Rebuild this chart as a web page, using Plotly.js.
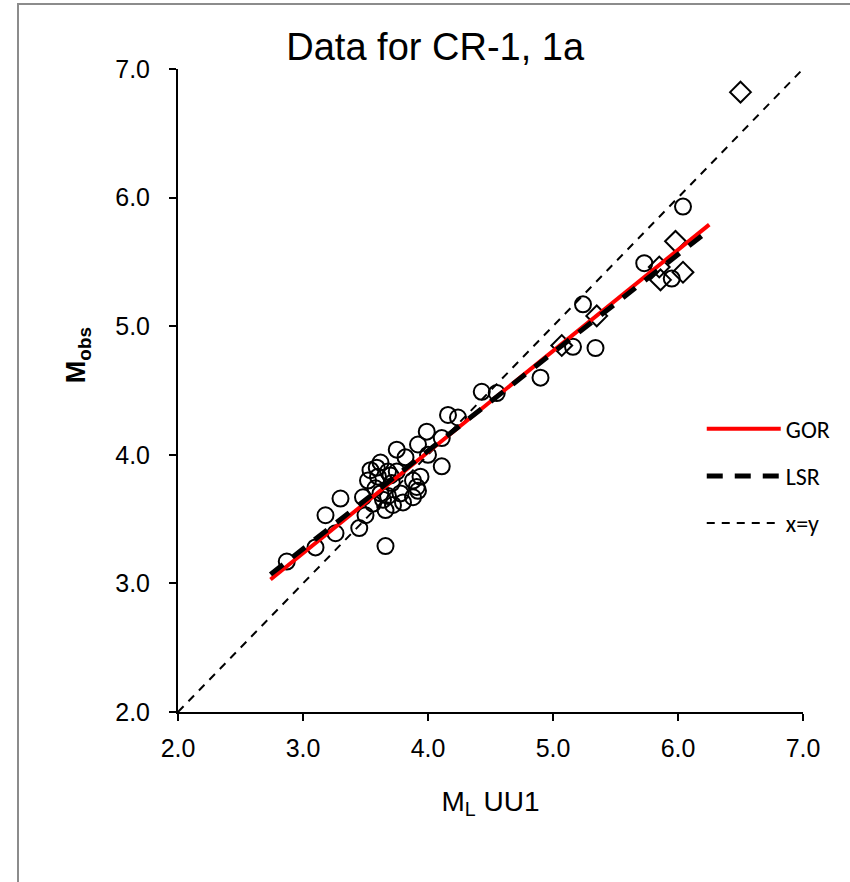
<!DOCTYPE html>
<html>
<head>
<meta charset="utf-8">
<script src="https://cdn.plot.ly/plotly-3.0.1.min.js"></script>
<style>
  html, body { margin: 0; padding: 0; background: #fff; }
  #wrap { position: relative; width: 850px; height: 882px; overflow: hidden; }
  #frame { position: absolute; left: 17px; top: 3px; width: 840px; height: 900px; border: 2px solid #8c8c8c; box-sizing: border-box; pointer-events: none; z-index: 5; }
  #chart { position: absolute; left: 0; top: 0; width: 850px; height: 882px; }
</style>
</head>
<body>
<div id="wrap">
  <div id="chart"></div>
  <div id="frame"></div>
</div>
<script>
// Observed events (circles)
const circlesX = [2.87, 3.10, 3.26, 3.18, 3.30, 3.45, 3.66, 3.50, 3.48, 3.52, 3.59, 3.62, 3.58, 3.64,
  3.72, 3.66, 3.60, 3.68, 3.75, 3.71, 3.78, 3.80, 3.75, 3.82, 3.88, 3.91, 3.94, 3.88, 4.11, 3.92,
  3.99, 4.00, 4.11, 4.16, 4.24, 3.54, 3.56, 3.62, 3.68, 3.70, 3.92,
  4.43, 4.55, 4.90, 5.16, 5.34, 5.24, 5.73, 5.95, 6.04];
const circlesY = [3.17, 3.28, 3.39, 3.53, 3.66, 3.43, 3.29, 3.53, 3.67, 3.80, 3.90, 3.94, 3.74, 3.65,
  3.61, 3.57, 3.83, 3.87, 3.87, 3.78, 3.70, 3.63, 4.04, 3.98, 3.80, 3.75, 3.83, 3.67, 3.91, 4.08,
  4.18, 4.00, 4.13, 4.31, 4.29, 3.88, 3.62, 3.70, 3.68, 3.84, 3.72,
  4.49, 4.48, 4.60, 4.84, 4.83, 5.17, 5.49, 5.37, 5.93];
// Diamonds
const diamondsX = [5.07, 5.35, 5.85, 5.86, 5.98, 6.04, 6.50];
const diamondsY = [4.85, 5.08, 5.46, 5.36, 5.66, 5.42, 6.82];
// Regression lines
const gorX = [2.74, 6.25];
const gorY = [3.03, 5.79];
const lsrX = [2.74, 6.20];
const lsrY = [3.07, 5.71];
const idX = [2.0, 7.0];
const idY = [2.0, 7.0];
const tickVals = [2, 3, 4, 5, 6, 7];
const tickText = ['2.0', '3.0', '4.0', '5.0', '6.0', '7.0'];

const narrow = '"Liberation Sans Narrow", "Arial Narrow", "Liberation Sans", Arial, sans-serif';
const legendFont = 'Carlito, Calibri, "Open Sans", sans-serif';

const traces = [
  { x: idX, y: idY, mode: 'lines', name: 'x=y', legendgroup: 'c', legendrank: 3,
    line: { color: '#000', width: 2, dash: '8px,7px' }, hoverinfo: 'skip' },
  { x: circlesX, y: circlesY, mode: 'markers', showlegend: false,
    marker: { symbol: 'circle-open', size: 16, color: '#000', line: { width: 2, color: '#000' } } },
  { x: diamondsX, y: diamondsY, mode: 'markers', showlegend: false,
    marker: { symbol: 'diamond-open', size: 16, color: '#000', line: { width: 2, color: '#000' } } },
  { x: gorX, y: gorY, mode: 'lines', name: 'GOR', legendgroup: 'a', legendrank: 1,
    line: { color: '#ff0000', width: 4 } },
  { x: lsrX, y: lsrY, mode: 'lines', name: 'LSR', legendgroup: 'b', legendrank: 2,
    line: { color: '#000', width: 5, dash: '16px,12px' } }
];

const layout = {
  width: 850, height: 882,
  margin: { l: 178, r: 47, t: 69, b: 170 },
  paper_bgcolor: '#fff', plot_bgcolor: '#fff',
  showlegend: true,
  title: { text: 'Data for CR-1, 1a', font: { family: narrow, size: 38, color: '#000' },
           x: 0.512, xref: 'container', xanchor: 'center', y: 0.947, yref: 'container', yanchor: 'middle' },
  xaxis: {
    range: [2, 7], tickvals: tickVals, ticktext: tickText,
    showgrid: false, zeroline: false, showline: true, linecolor: '#000', linewidth: 2,
    ticks: 'outside', ticklen: 7, tickwidth: 2, tickcolor: '#000', ticklabelstandoff: 6,
    tickfont: { family: narrow, size: 25, color: '#000' },
    title: { text: 'M<sub>L</sub> UU1', font: { family: narrow, size: 28, color: '#000' }, standoff: 30 }
  },
  yaxis: {
    range: [2, 7], tickvals: tickVals, ticktext: tickText,
    showgrid: false, zeroline: false, showline: true, linecolor: '#000', linewidth: 2,
    ticks: 'outside', ticklen: 7, tickwidth: 2, tickcolor: '#000', ticklabelstandoff: 14,
    tickfont: { family: narrow, size: 25, color: '#000' }
  },
  annotations: [
    { text: '<b>M<sub>obs</sub></b>', xref: 'paper', yref: 'paper', x: -0.16, y: 0.555,
      textangle: -90, showarrow: false, font: { family: '"Liberation Sans", Arial, sans-serif', size: 27, color: '#000' },
      xanchor: 'center', yanchor: 'middle' }
  ],
  legend: {
    x: 0.838, y: 0.475, xanchor: 'left', yanchor: 'top',
    bgcolor: 'rgba(0,0,0,0)', borderwidth: 0,
    font: { family: legendFont, size: 24, color: '#000' },
    traceorder: 'grouped', tracegroupgap: 13, itemwidth: 74
  }
};

Plotly.newPlot('chart', traces, layout, { displayModeBar: false, staticPlot: true });
</script>
</body>
</html>
